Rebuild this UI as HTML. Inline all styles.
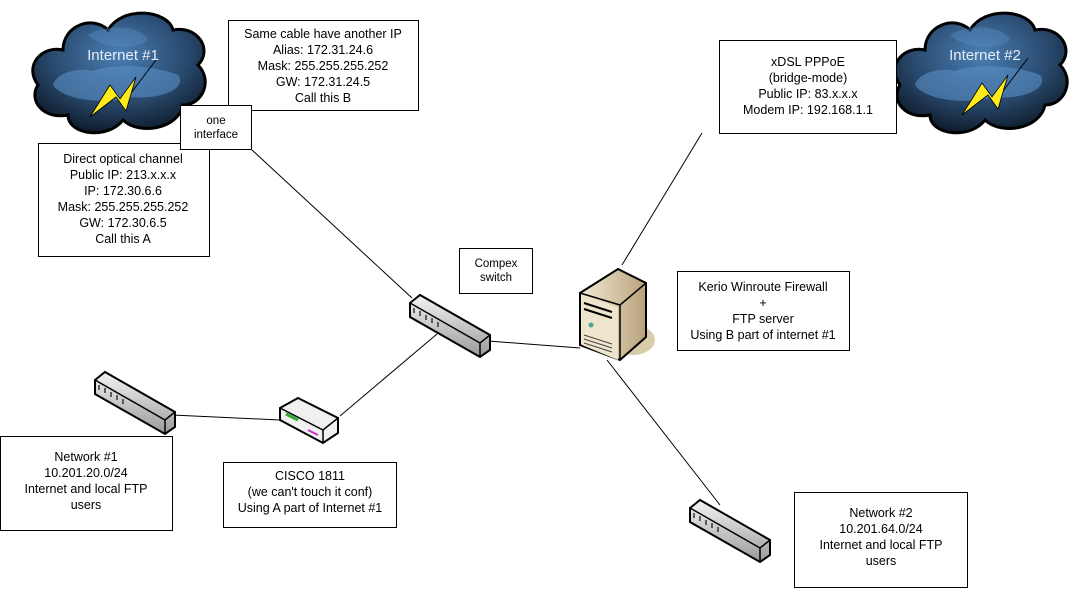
<!DOCTYPE html>
<html><head><meta charset="utf-8"><style>
html,body{margin:0;padding:0;background:#fff}
svg{display:block;font-family:"Liberation Sans",sans-serif}
.t{font-size:12.5px;fill:#000;text-anchor:middle}
.b{fill:#fff;stroke:#000;stroke-width:1}
</style></head><body>
<svg width="1073" height="589" viewBox="0 0 1073 589">
<defs>
<radialGradient id="cl" cx="0.5" cy="0.35" r="0.7">
<stop offset="0" stop-color="#4a7fb4"/><stop offset="0.55" stop-color="#2a4b70"/><stop offset="1" stop-color="#0b1622"/>
</radialGradient>
<linearGradient id="sw" x1="0" y1="0" x2="0" y2="1"><stop offset="0" stop-color="#f4f4f4"/><stop offset="1" stop-color="#9a9a9a"/></linearGradient>
<linearGradient id="sv" x1="0" y1="0" x2="1" y2="0"><stop offset="0" stop-color="#f3ead6"/><stop offset="1" stop-color="#b9a27a"/></linearGradient>
<g id="cloud">
<path d="M10,80 C-5,60 15,40 35,45 C35,20 65,10 80,25 C95,0 140,5 145,25 C170,20 185,45 170,60 C185,75 175,100 155,100 C150,125 110,130 95,115 C80,135 40,130 40,110 C15,115 0,95 10,80Z" fill="url(#cl)" stroke="#000" stroke-width="3"/>
<path d="M25,80 C28,68 50,62 65,66 C85,58 125,60 150,70 C160,82 135,95 105,92 C75,100 35,95 25,80Z" fill="#5a8fc5" opacity="0.6"/>
<path d="M60,30 C75,20 110,18 120,35 C110,45 75,45 60,30Z" fill="#5a8fc5" opacity="0.4"/>
</g>
<g id="bolt">
<path d="M128,55 L100,92" stroke="#000" stroke-width="1"/>
<polygon points="62,112 82,80 92,94 108,72 98,106 88,92" fill="#ffeb1a" stroke="#000" stroke-width="0.8"/>
</g>
<g id="swi">
<path d="M0,8 L10,0 L80,40 L80,55 L70,62 L0,22Z" fill="url(#sw)" stroke="#000" stroke-width="2"/>
<path d="M0,8 L70,48 L80,40 M70,48 L70,62" fill="none" stroke="#000" stroke-width="1.5"/>
<g stroke="#333" stroke-width="1.5"><line x1="4" y1="13" x2="4" y2="18"/><line x1="10" y1="16" x2="10" y2="21"/><line x1="16" y1="20" x2="16" y2="25"/><line x1="22" y1="23" x2="22" y2="28"/><line x1="28" y1="27" x2="28" y2="32"/></g>
</g>
</defs>

<g stroke="#000" stroke-width="1">
<line x1="252" y1="150" x2="412" y2="298"/>
<line x1="437" y1="334" x2="340" y2="416"/>
<line x1="488" y1="341" x2="580" y2="348"/>
<line x1="702" y1="133" x2="622" y2="265"/>
<line x1="607" y1="360" x2="720" y2="505"/>
<line x1="172" y1="415" x2="280" y2="420"/>
</g>

<g transform="translate(28,5)"><use href="#cloud"/>
<text x="95" y="55" style="font-size:15px;fill:#e6eef7;text-anchor:middle">Internet #1</text>
<use href="#bolt"/></g>
<g transform="translate(890,5)"><use href="#cloud"/>
<text x="95" y="55" style="font-size:15px;fill:#e6eef7;text-anchor:middle">Internet #2</text>
<use href="#bolt" transform="translate(10,-2)"/></g>

<rect class="b" x="228.5" y="20.5" width="190" height="90"/>
<text class="t" x="323" y="38">Same cable have another IP</text>
<text class="t" x="323" y="54">Alias: 172.31.24.6</text>
<text class="t" x="323" y="70">Mask: 255.255.255.252</text>
<text class="t" x="323" y="86">GW: 172.31.24.5</text>
<text class="t" x="323" y="102">Call this B</text>

<rect class="b" x="38.5" y="143.5" width="171" height="113"/>
<text class="t" x="123" y="163">Direct optical channel</text>
<text class="t" x="123" y="179">Public IP: 213.x.x.x</text>
<text class="t" x="123" y="195">IP: 172.30.6.6</text>
<text class="t" x="123" y="211">Mask: 255.255.255.252</text>
<text class="t" x="123" y="227">GW: 172.30.6.5</text>
<text class="t" x="123" y="243">Call this A</text>

<rect class="b" x="180.5" y="105.5" width="71" height="44"/>
<text class="t" x="216" y="124" style="font-size:11.5px">one</text>
<text class="t" x="216" y="138" style="font-size:11.5px">interface</text>

<rect class="b" x="719.5" y="40.5" width="177" height="93"/>
<text class="t" x="808" y="66">xDSL PPPoE</text>
<text class="t" x="808" y="82">(bridge-mode)</text>
<text class="t" x="808" y="98">Public IP: 83.x.x.x</text>
<text class="t" x="808" y="114">Modem IP: 192.168.1.1</text>

<rect class="b" x="459.5" y="248.5" width="73" height="45"/>
<text class="t" x="496" y="267" style="font-size:11.5px">Compex</text>
<text class="t" x="496" y="281" style="font-size:11.5px">switch</text>

<rect class="b" x="677.5" y="271.5" width="172" height="79"/>
<text class="t" x="763" y="291">Kerio Winroute Firewall</text>
<text class="t" x="763" y="307">+</text>
<text class="t" x="763" y="323">FTP server</text>
<text class="t" x="763" y="339">Using B part of internet #1</text>

<rect class="b" x="0.5" y="436.5" width="172" height="94"/>
<text class="t" x="86" y="461">Network #1</text>
<text class="t" x="86" y="477">10.201.20.0/24</text>
<text class="t" x="86" y="493">Internet and local FTP</text>
<text class="t" x="86" y="509">users</text>

<rect class="b" x="223.5" y="462.5" width="173" height="65"/>
<text class="t" x="310" y="480">CISCO 1811</text>
<text class="t" x="310" y="496">(we can't touch it conf)</text>
<text class="t" x="310" y="512">Using A part of Internet #1</text>

<rect class="b" x="794.5" y="492.5" width="173" height="95"/>
<text class="t" x="881" y="517">Network #2</text>
<text class="t" x="881" y="533">10.201.64.0/24</text>
<text class="t" x="881" y="549">Internet and local FTP</text>
<text class="t" x="881" y="565">users</text>

<g transform="translate(410,295)"><use href="#swi"/></g>
<g transform="translate(95,372)"><use href="#swi"/></g>
<g transform="translate(690,500)"><use href="#swi"/></g>

<g transform="translate(278,398)">
<path d="M2,10 L20,0 L60,20 L60,35 L45,45 L2,22Z" fill="#f0f0f0" stroke="#000" stroke-width="2"/>
<path d="M2,10 L45,32 L60,20 M45,32 L45,45" fill="none" stroke="#000" stroke-width="1.5"/>
<path d="M8,16 L20,22" stroke="#3a3" stroke-width="3"/>
<path d="M30,32 L40,37" stroke="#c3c" stroke-width="2"/>
</g>

<g transform="translate(578,265)">
<ellipse cx="55" cy="75" rx="22" ry="15" fill="#d9ccab"/>
<path d="M2,28 L40,4 L68,18 L68,72 L42,95 L2,80Z" fill="url(#sv)" stroke="#000" stroke-width="2"/>
<path d="M4,30 L40,42 L40,95 L4,80Z" fill="#efe5cc"/>
<path d="M2,28 L42,40 L68,18 M42,40 L42,95" fill="none" stroke="#000" stroke-width="1.5"/>
<path d="M6,38 L34,47 M6,44 L34,53" stroke="#000" stroke-width="2"/>
<circle cx="13" cy="60" r="2.5" fill="#4a9"/>
<path d="M6,70 L34,79 M6,74 L34,83 M6,78 L34,87" stroke="#444" stroke-width="1"/>
</g>
</svg>
</body></html>
